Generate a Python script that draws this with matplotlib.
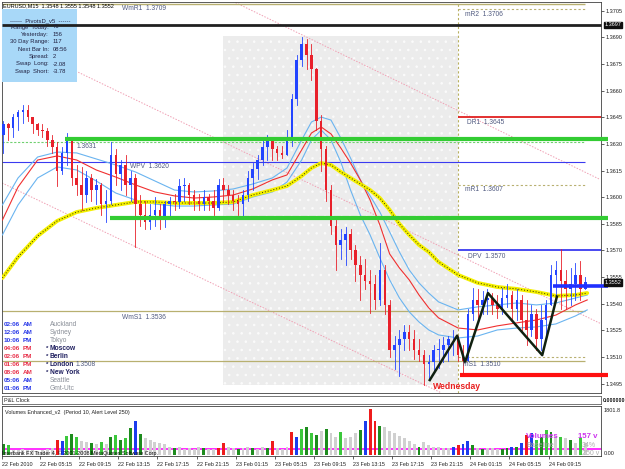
import numpy as np
import matplotlib
matplotlib.use("Agg")
import matplotlib.pyplot as plt
from matplotlib.patches import Rectangle

plt.rcParams['font.family'] = ['Liberation Sans', 'DejaVu Sans']
plt.rcParams['hatch.linewidth'] = 0.6

# ---------------- data ----------------
# 30-minute bars, time in hours since 22 Feb 2010 00:00
bar_hours = 1.5 + 0.5 * np.arange(120)
first_open = 1.3635
closes = [1.3641, 1.3639, 1.3645, 1.3648, 1.3649, 1.3645, 1.3641, 1.3638, 1.3637, 1.3632,
          1.3628, 1.3615, 1.3625, 1.3632, 1.3611, 1.3607, 1.3601, 1.3611, 1.3604, 1.3607,
          1.3596, 1.3598, 1.3624, 1.3613, 1.3618, 1.3607, 1.3611, 1.3596, 1.3590, 1.3586,
          1.3590, 1.3593, 1.3587, 1.3596, 1.3598, 1.3597, 1.3606, 1.3607, 1.3601, 1.3598,
          1.3596, 1.3600, 1.3598, 1.3594, 1.3607, 1.3604, 1.3601, 1.3598, 1.3596, 1.3601,
          1.3611, 1.3616, 1.3621, 1.3628, 1.3632, 1.3627, 1.3625, 1.3624, 1.3632, 1.3655,
          1.3677, 1.3686, 1.3680, 1.3672, 1.3643, 1.3627, 1.3604, 1.3584, 1.3573, 1.3576,
          1.3579, 1.3570, 1.3562, 1.3556, 1.3553, 1.3551, 1.3542, 1.3559, 1.3539, 1.3514,
          1.3517, 1.3520, 1.3524, 1.3520, 1.3514, 1.3511, 1.3506, 1.3507, 1.3514, 1.3514,
          1.3517, 1.3520, 1.3520, 1.3511, 1.3508, 1.3534, 1.3542, 1.3539, 1.3542, 1.3543,
          1.3539, 1.3537, 1.3543, 1.3545, 1.3537, 1.3542, 1.3531, 1.3525, 1.3534, 1.3520,
          1.3531, 1.3539, 1.3556, 1.3559, 1.3553, 1.3548, 1.3551, 1.3556, 1.3548, 1.3552]
highs = [1.3643, 1.3642, 1.3647, 1.3649, 1.3652, 1.3652, 1.3645, 1.3642, 1.3641, 1.3639,
         1.3635, 1.3631, 1.3628, 1.3636, 1.3632, 1.3618, 1.3617, 1.3615, 1.3613, 1.3610,
         1.3608, 1.3604, 1.3631, 1.3627, 1.3621, 1.3624, 1.3615, 1.3613, 1.3601, 1.3598,
         1.3596, 1.3600, 1.3596, 1.3598, 1.3600, 1.3602, 1.3610, 1.3611, 1.3608, 1.3604,
         1.3602, 1.3604, 1.3602, 1.3604, 1.3610, 1.3611, 1.3607, 1.3604, 1.3601, 1.3604,
         1.3615, 1.3619, 1.3624, 1.3632, 1.3635, 1.3634, 1.3629, 1.3629, 1.3638, 1.3658,
         1.3680, 1.3690, 1.3689, 1.3686, 1.3673, 1.3646, 1.3629, 1.3607, 1.3587, 1.3582,
         1.3583, 1.3582, 1.3573, 1.3567, 1.3565, 1.3559, 1.3556, 1.3574, 1.3562, 1.3542,
         1.3522, 1.3525, 1.3528, 1.3528, 1.3525, 1.3520, 1.3514, 1.3511, 1.3517, 1.3520,
         1.3521, 1.3522, 1.3525, 1.3522, 1.3517, 1.3537, 1.3549, 1.3548, 1.3547, 1.3548,
         1.3546, 1.3545, 1.3549, 1.3551, 1.3547, 1.3548, 1.3545, 1.3542, 1.3539, 1.3537,
         1.3539, 1.3542, 1.3562, 1.3564, 1.3571, 1.3559, 1.3560, 1.3563, 1.3564, 1.3555]
lows = [1.3625, 1.3632, 1.3634, 1.3638, 1.3642, 1.3643, 1.3636, 1.3635, 1.3634, 1.3629,
        1.3625, 1.3606, 1.3613, 1.3618, 1.3607, 1.3601, 1.3593, 1.3597, 1.3598, 1.3596,
        1.3590, 1.3586, 1.3596, 1.3607, 1.3604, 1.3601, 1.3598, 1.3572, 1.3584, 1.3582,
        1.3582, 1.3584, 1.3582, 1.3583, 1.3589, 1.3593, 1.3594, 1.3598, 1.3596, 1.3593,
        1.3593, 1.3593, 1.3593, 1.3590, 1.3593, 1.3598, 1.3596, 1.3593, 1.3590, 1.3588,
        1.3598, 1.3604, 1.3610, 1.3618, 1.3621, 1.3621, 1.3621, 1.3622, 1.3624, 1.3629,
        1.3652, 1.3674, 1.3672, 1.3666, 1.3638, 1.3615, 1.3598, 1.3579, 1.3559, 1.3565,
        1.3562, 1.3565, 1.3553, 1.3542, 1.3548, 1.3535, 1.3537, 1.3539, 1.3534, 1.3510,
        1.3503, 1.3499, 1.3514, 1.3514, 1.3509, 1.3508, 1.3494, 1.3497, 1.3502, 1.3504,
        1.3507, 1.3508, 1.3511, 1.3508, 1.3500, 1.3508, 1.3531, 1.3531, 1.3534, 1.3534,
        1.3534, 1.3532, 1.3534, 1.3538, 1.3531, 1.3531, 1.3525, 1.3517, 1.3522, 1.3514,
        1.3514, 1.3520, 1.3539, 1.3542, 1.3537, 1.3537, 1.3539, 1.3542, 1.3542, 1.3548]

volumes = [420, 380, 200, 180, 220, 190, 200, 170, 210, 230,
           260, 590, 560, 760, 830, 700, 560, 520, 470, 420,
           520, 450, 700, 780, 600, 650, 1070, 1350, 830, 650,
           600, 520, 480, 450, 330, 270, 300, 250, 270, 230,
           300, 270, 250, 220, 260, 460, 300, 270, 250, 280,
           300, 270, 250, 300, 280, 550, 270, 250, 300, 900,
           720, 1000, 1100, 850, 800, 950, 1000, 850, 700, 900,
           650, 700, 850, 970, 1330, 1800, 1350, 1150, 1100, 950,
           850, 750, 650, 550, 450, 330, 500, 400, 330, 300,
           280, 260, 300, 400, 420, 530, 400, 270, 230, 260,
           270, 240, 250, 270, 330, 300, 460, 800, 850, 600,
           720, 980, 900, 750, 700, 650, 600, 480, 650, 460]
vol_kinds = ("glkkkkkkkk" "krblglkkgk" "lkglglgbgk" "kkkkkgkkkk" "kgkkrrkkgk" "kgkkgrkkkr"
             "blglgkgkkl" "kkkgbrrgkk" "kkkkkgkkkk" "kkbrbbgkgk" "kkggbgbrbl" "glgklkgklk")
vol_alert = 250
vol_max = 1801.8

# moving averages sampled in time
ma_hours = [1.4, 3, 5, 7, 9, 11, 13, 15, 17, 19, 21, 23, 25, 27, 29, 30.5, 32, 33, 34, 35,
            36, 37, 38, 39, 40, 41, 42, 43, 44, 45, 46, 48, 50, 52, 54, 56, 58, 60, 61.2]
ma_yellow = [1.35545, 1.35663, 1.35781, 1.35866, 1.35916, 1.35939, 1.35956, 1.35973, 1.35973, 1.35967,
             1.35967, 1.35967, 1.35973, 1.36012, 1.36040, 1.36063, 1.36119, 1.36164, 1.36192, 1.36181,
             1.36142, 1.36108, 1.36074, 1.36040, 1.35995, 1.35928, 1.35849, 1.35787, 1.35731, 1.35691,
             1.35635, 1.35562, 1.35517, 1.35494, 1.35483, 1.35466, 1.35444, 1.35449, 1.35460]
ma_red = [1.35871, 1.36057, 1.36209, 1.36232, 1.36209, 1.36153, 1.36113, 1.36069, 1.36029, 1.36007,
          1.35995, 1.36001, 1.36012, 1.36046, 1.36097, 1.36125, 1.36266, 1.36361, 1.36395, 1.36356,
          1.36277, 1.36192, 1.36097, 1.35984, 1.35843, 1.35680, 1.35601, 1.35534, 1.35449, 1.35376,
          1.35320, 1.35263, 1.35252, 1.35275, 1.35292, 1.35308, 1.35336, 1.35393, 1.35421]
band_upper = [1.35956, 1.36108, 1.36226, 1.36254, 1.36249, 1.36215, 1.36181, 1.36142, 1.36091, 1.36040,
              1.36029, 1.36035, 1.36046, 1.36074, 1.36108, 1.36164, 1.36322, 1.36423, 1.36451, 1.36434,
              1.36333, 1.36220, 1.36097, 1.36007, 1.35916, 1.35804, 1.35691, 1.35590, 1.35517, 1.35460,
              1.35410, 1.35365, 1.35382, 1.35393, 1.35404, 1.35393, 1.35404, 1.35432, 1.35449]
band_lower = [1.35787, 1.35956, 1.36108, 1.36170, 1.36153, 1.36091, 1.36023, 1.35984, 1.35961, 1.35950,
              1.35950, 1.35956, 1.35961, 1.36001, 1.36029, 1.36085, 1.36209, 1.36322, 1.36378, 1.36322,
              1.36198, 1.36040, 1.35900, 1.35787, 1.35657, 1.35534, 1.35432, 1.35354, 1.35297, 1.35252,
              1.35224, 1.35207, 1.35218, 1.35252, 1.35263, 1.35269, 1.35286, 1.35331, 1.35365]

zigzag_hours = [45.1, 47.9, 48.7, 51.05, 56.6, 58.1]
zigzag_price = [1.3497, 1.3522, 1.3507, 1.3546, 1.3511, 1.3544]

channel_hours = [(24.7, 62.5), (1.36, 62.5), (1.36, 46.2)]
channel_price = [(1.3711, 1.3610), (1.3691, 1.3529), (1.3608, 1.3490)]

# horizontal levels: price, start hour, end hour
lvl_wmr1 = (1.3709, 1.36, 61.0)
lvl_mr2 = (1.3706, 48.0, 61.0)
lvl_black = (1.3697, 1.36, 62.6)
lvl_dr1 = (1.3645, 48.0, 62.6)
lvl_green_hi = (1.3633, 7.8, 63.3)
lvl_pivot_dot = (1.3631, 1.36, 61.0)
lvl_wpv = (1.3620, 1.36, 61.0)
lvl_mr1 = (1.3607, 48.0, 61.0)
lvl_green_lo = (1.3588, 12.4, 63.3)
lvl_dpv = (1.3570, 48.0, 62.6)
lvl_blue = (1.3550, 57.7, 63.3)
lvl_wms1 = (1.3536, 1.36, 61.0)
lvl_ms1 = (1.3510, 48.0, 61.0)
lvl_s2 = (1.3508, 1.36, 61.0)
lvl_red = (1.3500, 48.2, 63.3)
prev_day = (24.0, 48.0, 1.3494, 1.3691)

price_ticks = [1.3705, 1.3690, 1.3675, 1.3660, 1.3645, 1.3630, 1.3615, 1.3600,
               1.3585, 1.3570, 1.3555, 1.3540, 1.3525, 1.3510, 1.3495]
time_ticks = [1.36, 5.25, 9.25, 13.25, 17.25, 21.25, 25.25, 29.25, 33.25, 37.25,
              41.25, 45.25, 49.25, 53.25, 57.25]
time_labels = ["22 Feb 2010", "22 Feb 05:15", "22 Feb 09:15", "22 Feb 13:15", "22 Feb 17:15",
               "22 Feb 21:15", "23 Feb 01:15", "23 Feb 05:15", "23 Feb 09:15", "23 Feb 13:15",
               "23 Feb 17:15", "23 Feb 21:15", "24 Feb 01:15", "24 Feb 05:15", "24 Feb 09:15"]

info_rows = [("Range  Today:", "71"), ("Yesterday:", "156"), ("30 Day Range:", "117"),
             ("Next Bar In:", "08:56"), ("Spread:", "2"), ("Swap  Long:", "-2.08"),
             ("Swap  Short:", "-3.78")]
clock_rows = [("02:06", "AM", "Auckland", False), ("12:06", "AM", "Sydney", False),
              ("10:06", "PM", "Tokyo", False), ("04:06", "PM", "Moscow", True),
              ("02:06", "PM", "Berlin", True), ("01:06", "PM", "London", True),
              ("08:06", "AM", "New York", True), ("05:06", "AM", "Seattle", False),
              ("01:06", "PM", "Gmt-Utc", False)]

# ---------------- figure ----------------
W, H = 625, 469
fig = plt.figure(figsize=(6.25, 4.69), dpi=100)
fig.patch.set_facecolor("white")


def P(x, y):
    return (x / W, 1 - y / H)


def ptext(x, y, s, **kw):
    kw.setdefault("va", "center")
    kw.setdefault("ha", "left")
    fig.text(x / W, 1 - y / H, s, **kw)


XL = (1.36, 62.61)
ax = fig.add_axes([2 / W, 1 - 393 / H, 599 / W, 391 / H])
ax.set_xlim(*XL)
ax.set_ylim(1.34897, 1.37099)
ax.set_facecolor("white")

# previous day shading
t0, t1, p0, p1 = prev_day
ax.add_patch(Rectangle((t0, p0), t1 - t0, p1 - p0, facecolor="#ececec", edgecolor="#fbfbfb",
                       hatch="..", lw=0, zorder=0))
ax.axvline(48.0, color="#b8b060", lw=0.8, ls=(0, (2, 2)), zorder=1)

# channel lines
for th, pr in zip(channel_hours, channel_price):
    ax.plot(th, pr, color="#f0a0b4", lw=0.7, ls=(0, (1.5, 1.5)), zorder=1)


def hline(lv, **kw):
    p, a, b = lv
    ax.plot([a, b], [p, p], solid_capstyle="butt", clip_on=False, **kw)


olive = "#b8b070"
hline(lvl_wmr1, color=olive, lw=1.0, zorder=2)
hline(lvl_mr2, color=olive, lw=0.8, ls=(0, (2, 2)), zorder=2)
hline(lvl_mr1, color=olive, lw=0.8, ls=(0, (2, 2)), zorder=2)
hline(lvl_ms1, color=olive, lw=0.8, ls=(0, (2, 2)), zorder=2)
hline(lvl_wms1, color=olive, lw=0.9, zorder=2)
hline(lvl_s2, color=olive, lw=0.9, zorder=2)
hline(lvl_pivot_dot, color="#70d070", lw=0.8, ls=(0, (2, 1.5)), zorder=2)
hline(lvl_wpv, color="#3a3af0", lw=0.8, zorder=2)
hline(lvl_dr1, color="#e02020", lw=1.3, zorder=2)
hline(lvl_dpv, color="#3a3af0", lw=1.3, zorder=2)

# moving averages
ax.plot(ma_hours, band_upper, color="#6ab4f0", lw=0.8, zorder=3)
ax.plot(ma_hours, band_lower, color="#6ab4f0", lw=0.8, zorder=3)
ax.plot(ma_hours, ma_red, color="#f03030", lw=0.8, zorder=3)
ax.plot(ma_hours, ma_yellow, color="#f4f000", lw=2.8, zorder=3, solid_capstyle="round")
ax.plot(ma_hours, ma_yellow, color="#303000", lw=0.7, ls=(0, (1, 2)), zorder=3)

# candles
opens = [first_open] + closes[:-1]
bw = 0.26
for t, o, h, l, c in zip(bar_hours, opens, highs, lows, closes):
    col = "#2244ff" if c >= o else "#e8202a"
    ax.plot([t, t], [l, h], color=col, lw=0.6, zorder=4)
    lo, hi = min(o, c), max(o, c)
    ax.add_patch(Rectangle((t - bw / 2, lo), bw, max(hi - lo, 0.00003), facecolor=col,
                           edgecolor="none", zorder=4))

# thick lines on top
hline(lvl_green_hi, color="#33cc33", lw=3.0, zorder=5)
hline(lvl_green_lo, color="#33cc33", lw=3.0, zorder=5)
hline(lvl_blue, color="#2030ff", lw=2.6, zorder=5)
hline(lvl_red, color="#ff1010", lw=3.0, zorder=5)
ax.plot(zigzag_hours, zigzag_price, color="#102010", lw=1.8, zorder=6)

# price axis
ax.yaxis.tick_right()
ax.set_yticks(price_ticks)
ax.set_yticklabels([f"{v:.4f}" for v in price_ticks])
ax.tick_params(axis="y", labelsize=4.0, length=2, width=0.5, pad=1.5, colors="#202020")
ax.set_xticks([])
for s in ax.spines.values():
    s.set_color("#404040")
    s.set_linewidth(0.6)

# info box (drawn above the axes, black line crosses it)
ax.add_patch(Rectangle(P(2, 82), 75 / W, 73 / H, transform=fig.transFigure,
                       facecolor="#a8d8f8", edgecolor="none", zorder=10, clip_on=False))
hline(lvl_black, color="#202020", lw=2.0, zorder=11)
ax.text(*P(40, 20.7), "------  PivotsD_v5  ------", transform=fig.transFigure, fontsize=4.2,
        color="#202040", ha="center", va="center", zorder=12)
for k, (lab, val) in enumerate(info_rows):
    yy = 27 + k * 7.4
    ax.text(*P(49, yy), lab, transform=fig.transFigure, fontsize=4.2, color="#202040",
            ha="right", va="center", zorder=12)
    ax.text(*P(53, yy), val, transform=fig.transFigure, fontsize=4.2, color="#202040",
            ha="left", va="center", zorder=12)

# axis price boxes
for pr, txt in [(1.3697, "1.3697"), (1.3552, "1.3552")]:
    ax.text(1.006, pr, txt, transform=ax.get_yaxis_transform(), fontsize=4.0, color="white",
            ha="left", va="center", zorder=12,
            bbox=dict(facecolor="#101010", edgecolor="#101010", pad=0.6))

# title and level labels
ptext(3, 5.5, "EURUSD,M15  1.3548 1.3555 1.3548 1.3552", fontsize=4.0, color="black")
lab_col = "#505a80"
for s, x, y in [("WmR1  1.3709", 122, 9), ("mR2  1.3706", 465, 15), ("DR1  1.3645", 467, 122),
                ("mR1  1.3607", 465, 189), ("DPV  1.3570", 468, 256), ("mS1  1.3510", 463, 364),
                ("WPV  1.3620", 130, 167), ("WmS1  1.3536", 122, 317), ("1.3631", 77, 147),
                ("1.3508", 76, 364)]:
    ptext(x, y, s, fontsize=4.8, color=lab_col)
ptext(433, 386, "Wednesday", fontsize=6.2, color="#e82020", fontweight="bold")

# session clock
for k, (tm, ap, city, open_mkt) in enumerate(clock_rows):
    yy = 324 + k * 8
    tc = "#e8304a" if open_mkt else "#2a3ae8"
    ptext(4, yy, tm, fontsize=4.6, color=tc, fontweight="bold")
    ptext(23, yy, ap, fontsize=4.6, color=tc, fontweight="bold")
    if open_mkt:
        ptext(46, yy, "*", fontsize=4.4, color="#202060", fontweight="bold")
        ptext(50, yy, city, fontsize=4.8, color="#202060", fontweight="bold")
    else:
        ptext(50, yy, city, fontsize=4.8, color="#8a8f98")

# P&L clock panel
pax = fig.add_axes([2 / W, 1 - 404 / H, 599 / W, 8 / H])
pax.set_xticks([])
pax.set_yticks([])
for s in pax.spines.values():
    s.set_color("#606060")
    s.set_linewidth(0.6)
ptext(4, 400, "P&L Clock", fontsize=4.0, color="#202020")
ptext(603, 400, "0.000000", fontsize=3.8, color="#101010", fontweight="bold")

# volume panel
vax = fig.add_axes([2 / W, 1 - 456 / H, 599 / W, 50 / H])
vax.set_xlim(*XL)
vax.set_ylim(-39, 1919)
cmap = {"g": "#1e8c1e", "l": "#3cc83c", "r": "#ee1c1c", "b": "#1c3cee", "k": "#d0d0d0"}
vax.bar(bar_hours, volumes, width=0.3, color=[cmap[c] for c in vol_kinds], zorder=2)
vax.axhline(vol_alert, color="#ff30ff", lw=1.4, zorder=1)
vax.set_yticks([])
vax.set_xticks(time_ticks)
vax.set_xticklabels(time_labels)
vax.tick_params(axis="x", labelsize=3.9, length=2, width=0.5, pad=2.5, colors="#202020")
for lbl in vax.get_xticklabels():
    lbl.set_ha("left")
for s in vax.spines.values():
    s.set_color("#404040")
    s.set_linewidth(0.6)
ptext(5, 412, "Volumes Enhanced_v2  (Period 10, Alert Level 250)", fontsize=3.9, color="#202020")
ptext(2, 453, "Interbank FX Trader 4, \u00a9 2001-2008 MetaQuotes Software Corp.", fontsize=3.9,
      color="#101010")
ptext(604, 410, f"{vol_max:.1f}", fontsize=4.0, color="#202020")
ptext(604, 453, "0.00", fontsize=4.0, color="#202020")
ptext(526, 437, "Volumes", fontsize=5.8, color="#cc33ee", fontweight="bold")
ptext(578, 437, "157 v", fontsize=5.6, color="#cc33ee", fontweight="bold")
ptext(526, 445, "Baseline", fontsize=5.2, color="#a0a0a0")
ptext(582, 445, "34%", fontsize=5.0, color="#b0b0b0")
ptext(582, 453, "250 v", fontsize=5.0, color="#b0b0b0")

fig.savefig("out.png", dpi=100, facecolor="white")
